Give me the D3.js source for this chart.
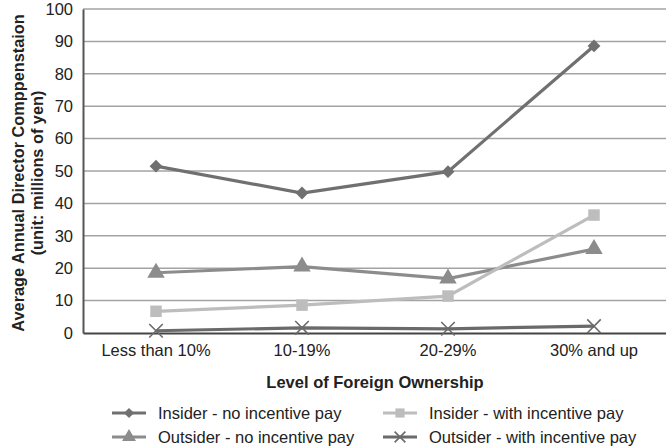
<!DOCTYPE html>
<html><head><meta charset="utf-8">
<script src="https://cdn.jsdelivr.net/npm/d3@7"></script>
<style>body{margin:0;background:#fff}svg{display:block}text{font-family:"Liberation Sans",Arial,sans-serif}</style>
</head><body>
<svg id="c" width="666" height="446"></svg>
<script>
const categories = ["Less than 10%", "10-19%", "20-29%", "30% and up"];
const insiderNo = [51.5, 43.2, 49.8, 88.6];
const outsiderNo = [18.6, 20.5, 16.8, 25.9];
const insiderWith = [6.7, 8.6, 11.4, 36.4];
const outsiderWith = [0.7, 1.6, 1.3, 2.1];
const yTicks = [0,10,20,30,40,50,60,70,80,90,100];
const seriesNames = ["Insider - no incentive pay","Outsider - no incentive pay","Insider - with incentive pay","Outsider - with incentive pay"];

const series = [
  {name: seriesNames[0], values: insiderNo, color: "#707070", marker: "diamond"},
  {name: seriesNames[1], values: outsiderNo, color: "#8c8c8c", marker: "triangle"},
  {name: seriesNames[2], values: insiderWith, color: "#bdbdbd", marker: "square"},
  {name: seriesNames[3], values: outsiderWith, color: "#6a6a6a", marker: "x"}
];
const svg = d3.select("#c");
const L = 83, R = 667, T = 9, B = 333;
const x = d3.scaleBand().domain(categories).range([L, R]);
const y = d3.scaleLinear().domain([0, 100]).range([B, T]);

svg.append("g").selectAll("line").data(yTicks.filter(d=>d>0)).join("line")
  .attr("x1", L).attr("x2", R).attr("y1", d=>y(d)).attr("y2", d=>y(d))
  .attr("stroke", "#a3a3a3").attr("stroke-width", 1.5);

const ya = svg.append("g").attr("transform", `translate(${L},0)`)
  .call(d3.axisLeft(y).tickValues(yTicks).tickSize(0).tickPadding(10));
ya.select(".domain").attr("stroke", "#555").attr("stroke-width", 2);
ya.selectAll("text").attr("font-size", 16.5).attr("fill", "#222");

const xa = svg.append("g").attr("transform", `translate(0,${B})`)
  .call(d3.axisBottom(x).tickSize(0).tickPadding(11));
xa.select(".domain").attr("stroke", "#444").attr("stroke-width", 2);
xa.selectAll("text").attr("font-size", 16.5).attr("fill", "#222");

function marker(g, type, color, size) {
  if (type === "diamond") {
    g.append("path").attr("d", d3.symbol(d3.symbolSquare, size*0.75)()).attr("fill", color).attr("transform","rotate(45)");
  } else if (type === "triangle") {
    g.append("path").attr("d", d3.symbol(d3.symbolTriangle, size*1.2)()).attr("fill", color);
  } else if (type === "square") {
    g.append("path").attr("d", d3.symbol(d3.symbolSquare, size*1.2)()).attr("fill", color);
  } else {
    g.append("path").attr("d", d3.symbol(d3.symbolX, size*1.1)()).attr("fill", "none").attr("stroke", color).attr("stroke-width", 1.6);
  }
}

const line = d3.line().x((d,i)=>x(categories[i]) + x.bandwidth()/2).y(d=>y(d));
series.forEach(s => {
  svg.append("path").datum(s.values).attr("d", line).attr("fill","none")
    .attr("stroke", s.color).attr("stroke-width", 3.2);
  s.values.forEach((v,i) => {
    const g = svg.append("g").attr("transform", `translate(${x(categories[i]) + x.bandwidth()/2},${y(v)})`);
    marker(g, s.marker, s.color, 110);
  });
});

const yt = svg.append("text").attr("transform", `translate(18,${(T+B)/2 + 2}) rotate(-90)`)
  .attr("text-anchor","middle").attr("font-size", 16.3).attr("font-weight","bold").attr("fill","#222");
yt.append("tspan").attr("x",0).attr("dy","0.35em").text("Average Annual Director Comppenstaion");
yt.append("tspan").attr("x",0).attr("dy","1.2em").text("(unit: millions of yen)");

svg.append("text").attr("x", (L+R)/2).attr("y", 382).attr("dy","0.35em").attr("text-anchor","middle")
  .attr("font-size", 16.5).attr("font-weight","bold").attr("fill","#222").text("Level of Foreign Ownership");

const legPos = [[112, 413],[112, 437],[383, 413],[383, 437]];
series.forEach((s,i) => {
  const [lx, ly] = legPos[i];
  const g = svg.append("g").attr("transform", `translate(${lx},${ly})`);
  g.append("line").attr("x1",0).attr("x2",34).attr("stroke", s.color).attr("stroke-width", 3.2);
  const m = g.append("g").attr("transform","translate(17,0)");
  marker(m, s.marker, s.color, 70);
  g.append("text").attr("x", 46).attr("dy","0.35em").attr("font-size", 16.5).attr("fill","#222").text(s.name);
});
</script>
</body></html>
